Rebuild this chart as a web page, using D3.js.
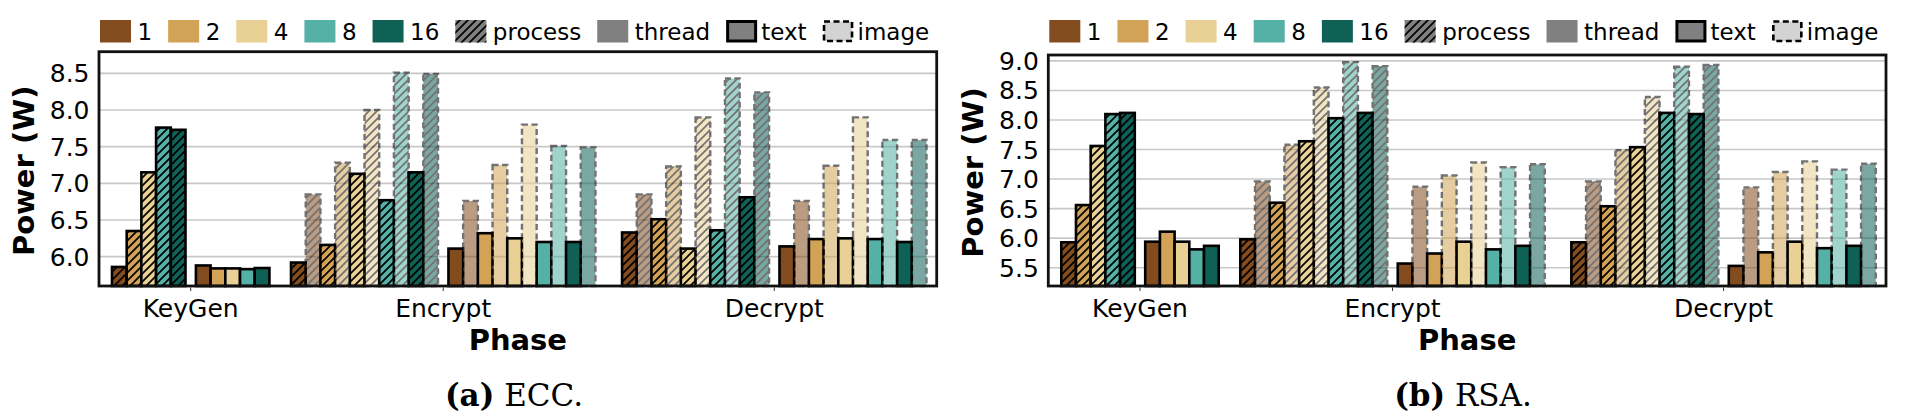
<!DOCTYPE html>
<html><head><meta charset="utf-8">
<script src="https://cdn.jsdelivr.net/npm/d3@7"></script>
<style>body{margin:0;background:#fff}</style>
</head><body>
<svg id="c" width="1905" height="417" xmlns="http://www.w3.org/2000/svg"></svg>
<script>
// ---------- data ----------
const phases = ["KeyGen", "Encrypt", "Decrypt"];
const threadCounts = ["1", "2", "4", "8", "16"];
const styleLabels = ["process", "thread", "text", "image"];
const eccTicks = [6.0, 6.5, 7.0, 7.5, 8.0, 8.5];
const rsaTicks = [5.5, 6.0, 6.5, 7.0, 7.5, 8.0, 8.5, 9.0];

// ECC
const eccKeyGenProcessText   = [5.86, 6.35, 7.15, 7.76, 7.73];
const eccKeyGenThreadText    = [5.88, 5.84, 5.84, 5.83, 5.845];
const eccEncryptProcessText  = [5.92, 6.16, 7.13, 6.77, 7.15];
const eccEncryptProcessImage = [6.85, 7.28, 8.00, 8.51, 8.49];
const eccEncryptThreadText   = [6.11, 6.32, 6.25, 6.20, 6.20];
const eccEncryptThreadImage  = [6.76, 7.25, 7.80, 7.51, 7.49];
const eccDecryptProcessText  = [6.33, 6.51, 6.11, 6.36, 6.81];
const eccDecryptProcessImage = [6.85, 7.23, 7.90, 8.43, 8.24];
const eccDecryptThreadText   = [6.14, 6.24, 6.25, 6.24, 6.20];
const eccDecryptThreadImage  = [6.76, 7.24, 7.90, 7.59, 7.59];
// RSA
const rsaKeyGenProcessText   = [5.93, 6.56, 7.56, 8.10, 8.12];
const rsaKeyGenThreadText    = [5.94, 6.11, 5.94, 5.81, 5.87];
const rsaEncryptProcessText  = [5.98, 6.60, 7.64, 8.03, 8.12];
const rsaEncryptProcessImage = [6.96, 7.58, 8.55, 8.98, 8.91];
const rsaEncryptThreadText   = [5.57, 5.74, 5.94, 5.81, 5.87];
const rsaEncryptThreadImage  = [6.87, 7.06, 7.28, 7.20, 7.25];
const rsaDecryptProcessText  = [5.93, 6.54, 7.54, 8.12, 8.10];
const rsaDecryptProcessImage = [6.96, 7.49, 8.39, 8.90, 8.93];
const rsaDecryptThreadText   = [5.53, 5.76, 5.94, 5.83, 5.87];
const rsaDecryptThreadImage  = [6.86, 7.12, 7.30, 7.16, 7.26];

// ---------- style / layout ----------
const colors = ["#834c1f", "#d2a356", "#e9d095", "#55b0a6", "#0f6156"];
const groupCenter = [0, 17.18, 39.70];   // in bar-width units
const innerGap = 0.71;                   // gap between process and thread blocks
const xDomain = [-6.238, 50.75];
const FONT = "DejaVu Sans, sans-serif";

const svg = d3.select("#c");
const defs = svg.append("defs");
const pat = defs.append("pattern").attr("id", "hatch")
  .attr("patternUnits", "userSpaceOnUse").attr("width", 8).attr("height", 8);
pat.append("path").attr("d", "M-2,2 L2,-2 M0,8 L8,0 M6,10 L10,6")
  .attr("stroke", "#000").attr("stroke-width", 1.7).attr("fill", "none");

function buildBars(sets) {
  const bars = [];
  phases.forEach((ph, i) => {
    const c = groupCenter[i];
    const s = sets[ph];
    if (!s.processImage) {
      s.processText.forEach((v, k) => bars.push({u: c - innerGap / 2 - 5 + k, v, k, hatch: true, image: false}));
      s.threadText.forEach((v, k) => bars.push({u: c + innerGap / 2 + k, v, k, hatch: false, image: false}));
    } else {
      threadCounts.forEach((t, k) => {
        bars.push({u: c - innerGap / 2 - 10 + 2 * k, v: s.processText[k], k, hatch: true, image: false});
        bars.push({u: c - innerGap / 2 - 10 + 2 * k + 1, v: s.processImage[k], k, hatch: true, image: true});
        bars.push({u: c + innerGap / 2 + 2 * k, v: s.threadText[k], k, hatch: false, image: false});
        bars.push({u: c + innerGap / 2 + 2 * k + 1, v: s.threadImage[k], k, hatch: false, image: true});
      });
    }
  });
  return bars;
}

function panel(opt) {
  const g = svg.append("g");
  const x = d3.scaleLinear().domain(xDomain).range([opt.left, opt.right]);
  const y = d3.scaleLinear().domain(opt.yDomain).range([opt.bottom, opt.top]);
  const uw = x(1) - x(0);

  // grid
  g.append("g").selectAll("line").data(opt.ticks).join("line")
    .attr("x1", opt.left).attr("x2", opt.right)
    .attr("y1", d => y(d)).attr("y2", d => y(d))
    .attr("stroke", "#c8c8c8").attr("stroke-width", 1.6);

  const bars = buildBars(opt.sets);
  const bg = g.append("g");
  bars.forEach(b => {
    const bx = x(b.u), by = y(b.v), bh = opt.bottom - y(b.v);
    const gg = bg.append("g").attr("opacity", b.image ? 0.55 : 1);
    gg.append("rect").attr("x", bx).attr("y", by).attr("width", uw).attr("height", bh)
      .attr("fill", colors[b.k]);
    if (b.hatch) gg.append("rect").attr("x", bx).attr("y", by).attr("width", uw).attr("height", bh)
      .attr("fill", "url(#hatch)");
    gg.append("rect").attr("x", bx).attr("y", by).attr("width", uw).attr("height", bh)
      .attr("fill", "none").attr("stroke", "#000").attr("stroke-width", b.image ? 2.4 : 2.6)
      .attr("stroke-dasharray", b.image ? "6,3.5" : null);
  });

  // frame
  g.append("rect").attr("x", opt.left).attr("y", opt.top)
    .attr("width", opt.right - opt.left).attr("height", opt.bottom - opt.top)
    .attr("fill", "none").attr("stroke", "#111").attr("stroke-width", 2.8);

  // y tick labels
  g.append("g").selectAll("text").data(opt.ticks).join("text")
    .attr("x", opt.left - 9.5).attr("y", d => y(d)).attr("dy", "0.36em")
    .attr("text-anchor", "end").attr("font-family", FONT).attr("font-size", 25)
    .text(d => d.toFixed(1));

  // x ticks
  g.append("g").selectAll("line").data(phases).join("line")
    .attr("x1", (d, i) => x(groupCenter[i])).attr("x2", (d, i) => x(groupCenter[i]))
    .attr("y1", opt.bottom + 1.4).attr("y2", opt.bottom + 5)
    .attr("stroke", "#333").attr("stroke-width", 1);
  g.append("g").selectAll("text").data(phases).join("text")
    .attr("x", (d, i) => x(groupCenter[i])).attr("y", 317)
    .attr("text-anchor", "middle").attr("font-family", FONT).attr("font-size", 25)
    .text(d => d);

  // axis labels
  g.append("text").attr("x", (opt.left + opt.right) / 2).attr("y", 350)
    .attr("text-anchor", "middle").attr("font-family", FONT).attr("font-weight", "bold")
    .attr("font-size", 29).text("Phase");
  g.append("text").attr("transform", `translate(${opt.left - 65},${(opt.top + opt.bottom) / 2 + 2}) rotate(-90)`)
    .attr("text-anchor", "middle").attr("font-family", FONT).attr("font-weight", "bold")
    .attr("font-size", 29).text("Power (W)");

  // caption
  const cap = g.append("text").attr("x", opt.capX).attr("y", 406)
    .attr("text-anchor", "middle").attr("font-family", "DejaVu Serif, serif").attr("font-size", 31);
  cap.append("tspan").attr("font-weight", "bold").text(opt.capBold);
  cap.append("tspan").text(" " + opt.capText);

  // legend
  const lg = g.append("g");
  let cx = opt.left + 1;
  const items = [
    ...threadCounts.map((t, k) => ({label: t, type: "color", k})),
    ...styleLabels.map(s => ({label: s, type: s}))
  ];
  items.forEach(it => {
    const pw = 31, ph = 22.5, py = 20;
    if (it.type === "color") {
      lg.append("rect").attr("x", cx).attr("y", py).attr("width", pw).attr("height", ph).attr("fill", colors[it.k]);
    } else if (it.type === "process") {
      lg.append("rect").attr("x", cx).attr("y", py).attr("width", pw).attr("height", ph).attr("fill", "#808080");
      lg.append("rect").attr("x", cx).attr("y", py).attr("width", pw).attr("height", ph).attr("fill", "url(#hatch)");
    } else if (it.type === "thread") {
      lg.append("rect").attr("x", cx).attr("y", py).attr("width", pw).attr("height", ph).attr("fill", "#808080");
    } else if (it.type === "text") {
      lg.append("rect").attr("x", cx + 1.5).attr("y", py + 1.5).attr("width", pw - 3).attr("height", ph - 3)
        .attr("fill", "#808080").attr("stroke", "#000").attr("stroke-width", 3);
    } else {
      lg.append("rect").attr("x", cx + 1.5).attr("y", py + 1.5).attr("width", pw - 3).attr("height", ph - 3)
        .attr("fill", "#d3d3d3").attr("stroke", "#000").attr("stroke-width", 2.6).attr("stroke-dasharray", "6,3.5");
    }
    const off = (it.type === "text" || it.type === "image") ? 4 : 6.5;
    const t = lg.append("text").attr("x", cx + pw + off).attr("y", 40)
      .attr("font-family", FONT).attr("font-size", 23).text(it.label);
    cx = cx + pw + off + t.node().getComputedTextLength() + 16;
  });
}

const eccSets = {
  KeyGen: {processText: eccKeyGenProcessText, threadText: eccKeyGenThreadText},
  Encrypt: {processText: eccEncryptProcessText, processImage: eccEncryptProcessImage,
            threadText: eccEncryptThreadText, threadImage: eccEncryptThreadImage},
  Decrypt: {processText: eccDecryptProcessText, processImage: eccDecryptProcessImage,
            threadText: eccDecryptThreadText, threadImage: eccDecryptThreadImage}
};
const rsaSets = {
  KeyGen: {processText: rsaKeyGenProcessText, threadText: rsaKeyGenThreadText},
  Encrypt: {processText: rsaEncryptProcessText, processImage: rsaEncryptProcessImage,
            threadText: rsaEncryptThreadText, threadImage: rsaEncryptThreadImage},
  Decrypt: {processText: rsaDecryptProcessText, processImage: rsaDecryptProcessImage,
            threadText: rsaDecryptThreadText, threadImage: rsaDecryptThreadImage}
};

panel({left: 99, right: 936.7, top: 51.7, bottom: 286, yDomain: [5.6, 8.795], ticks: eccTicks,
       sets: eccSets, capX: 514, capBold: "(a)", capText: "ECC."});
panel({left: 1048.3, right: 1886, top: 55, bottom: 286, yDomain: [5.19, 9.1], ticks: rsaTicks,
       sets: rsaSets, capX: 1463, capBold: "(b)", capText: "RSA."});
</script>
</body></html>
